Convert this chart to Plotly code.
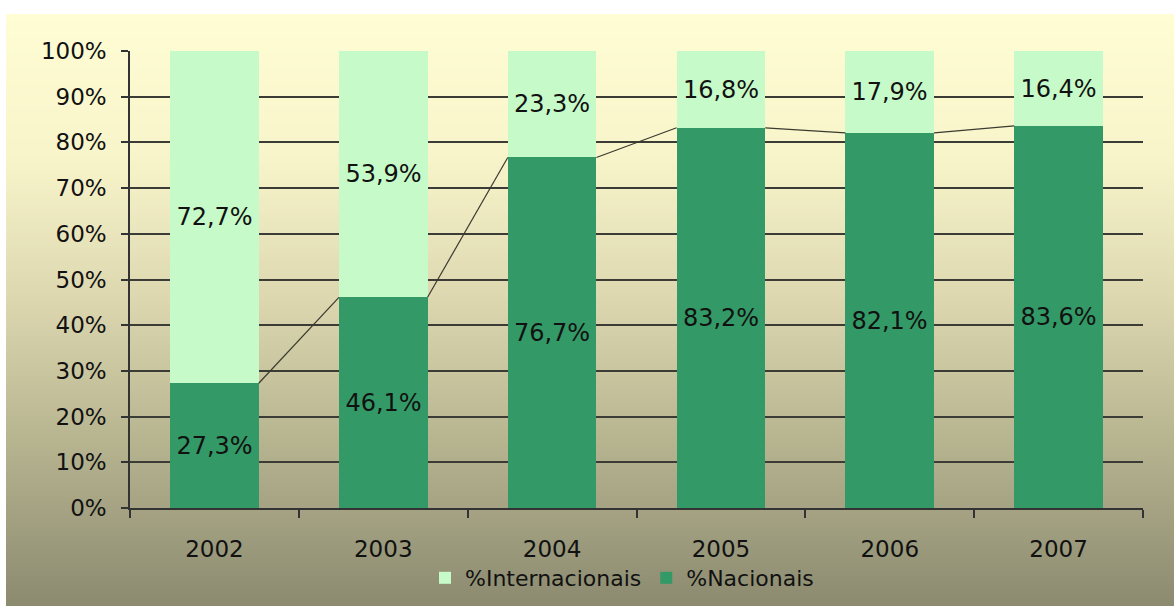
import plotly.graph_objects as go

# Share of national vs international, by year
years = ["2002", "2003", "2004", "2005", "2006", "2007"]
nacionais = [27.3, 46.1, 76.7, 83.2, 82.1, 83.6]
internacionais = [72.7, 53.9, 23.3, 16.8, 17.9, 16.4]

W, H = 1174, 606
L, R, T, B = 130, 31, 51, 98
PW, PH = W - L - R, H - T - B
BAR_W = 0.525
FONT = "DejaVu Sans"

DARK = "#339966"
LIGHT = "#C6FAC8"


def fmt(v):
    return f"{v:.1f}".replace(".", ",") + "%"


x = list(range(len(years)))
fig = go.Figure()

fig.add_trace(go.Bar(
    x=x, y=[v / 100 for v in nacionais], width=BAR_W, name="%Nacionais",
    marker=dict(color=DARK, line=dict(width=0)),
    text=[fmt(v) for v in nacionais], textposition="inside",
    insidetextanchor="middle", constraintext="none",
    textfont=dict(family=FONT, size=24, color="#111111"),
    hoverinfo="skip",
))
fig.add_trace(go.Bar(
    x=x, y=[v / 100 for v in internacionais], width=BAR_W, name="%Internacionais",
    marker=dict(color=LIGHT, line=dict(width=0)),
    text=[fmt(v) for v in internacionais], textposition="inside",
    insidetextanchor="middle", constraintext="none",
    textfont=dict(family=FONT, size=24, color="#111111"),
    hoverinfo="skip",
))

# series lines joining the tops of the lower segments
lx, ly = [], []
for i in range(len(years) - 1):
    lx += [i + BAR_W / 2, i + 1 - BAR_W / 2, None]
    ly += [nacionais[i] / 100, nacionais[i + 1] / 100, None]
fig.add_trace(go.Scatter(
    x=lx, y=ly, mode="lines", line=dict(color="#3a3a30", width=1.2),
    showlegend=False, hoverinfo="skip",
))

# vertical gradient backdrop built from thin horizontal strips
stops = [(14, (255, 253, 212)), (160, (248, 244, 202)), (300, (220, 215, 175)),
         (450, (180, 177, 142)), (606, (139, 139, 112))]


def color_at(yp):
    for (y0, c0), (y1, c1) in zip(stops[:-1], stops[1:]):
        if y0 <= yp <= y1:
            f = (yp - y0) / (y1 - y0)
            return tuple(round(a + (b - a) * f) for a, b in zip(c0, c1))
    return stops[-1][1]


def px_to_paper_x(px):
    return (px - L) / PW


def px_to_paper_y(py):
    return (H - B - py) / PH


shapes = []
step = 4
for y0 in range(14, 606, step):
    y1 = min(y0 + step, 606)
    c = color_at((y0 + y1) / 2)
    shapes.append(dict(
        type="rect", xref="paper", yref="paper", layer="below",
        x0=px_to_paper_x(6), x1=px_to_paper_x(W + 2),
        y0=px_to_paper_y(y1 + 0.6), y1=px_to_paper_y(y0),
        fillcolor=f"rgb{c}", line=dict(width=0),
    ))

fig.update_layout(
    width=W, height=H,
    margin=dict(l=L, r=R, t=T, b=B, autoexpand=False),
    paper_bgcolor="white", plot_bgcolor="rgba(0,0,0,0)",
    barmode="stack", bargap=0,
    shapes=shapes,
    font=dict(family=FONT, size=23, color="#111111"),
    showlegend=True,
    legend=dict(
        orientation="h", x=px_to_paper_x(622), y=px_to_paper_y(578),
        xanchor="center", yanchor="middle", traceorder="reversed",
        font=dict(family=FONT, size=22, color="#111111"),
        bgcolor="rgba(0,0,0,0)", itemwidth=30,
    ),
    xaxis=dict(
        range=[-0.5, len(years) - 0.5], tickvals=x, ticktext=years,
        ticks="", showgrid=False, zeroline=False, automargin=False,
        showline=True, linecolor="#333333", linewidth=1.5,
        ticklabelstandoff=20,
        tickfont=dict(family=FONT, size=23, color="#111111"),
        minor=dict(tickvals=[i - 0.5 for i in range(len(years) + 1)],
                   ticks="outside", ticklen=8, tickcolor="#333333",
                   tickwidth=1.5, showgrid=False),
    ),
    yaxis=dict(
        range=[0, 1], tickvals=[i / 10 for i in range(11)], tickformat=".0%",
        ticks="outside", ticklen=7, tickcolor="#333333", tickwidth=1.5,
        showgrid=True, gridcolor="#3c3c36", gridwidth=1.6, automargin=False,
        zeroline=False, showline=True, linecolor="#333333", linewidth=1.5,
        ticklabelstandoff=10,
        tickfont=dict(family=FONT, size=23, color="#111111"),
    ),
)

fig.write_html("out.html")
